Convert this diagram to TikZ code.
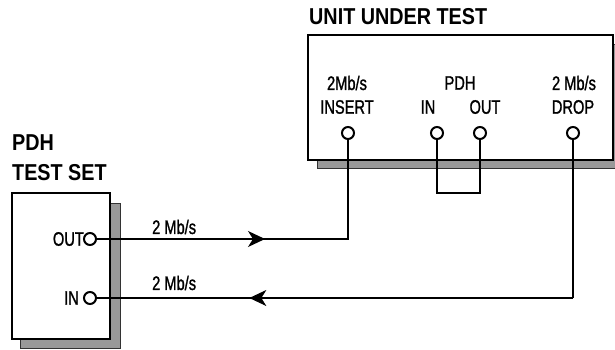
\documentclass[tikz,border=0pt]{standalone}
\usepackage{fontspec}
\setmainfont{Liberation Sans}[FakeStretch=0.75,FakeBold=1.2]
\newfontfamily\titlefont{Liberation Sans Bold}[FakeStretch=0.86]
\usetikzlibrary{arrows.meta,decorations.markings}
\begin{document}
\begin{tikzpicture}[x=1pt,y=-1pt,
  wire/.style={line width=2pt},
  boxline/.style={draw=black,line width=2.4pt,fill=white},
  shadowbox/.style={draw=black!80,line width=0.8pt,fill=black!40},
  port/.style={circle,draw=black,line width=2pt,fill=white,minimum size=12pt,inner sep=0pt},
  lbl/.style={font=\fontsize{19.5}{20}\selectfont,inner sep=0pt},
  ttl/.style={font=\titlefont\fontsize{23}{24}\selectfont,inner sep=0pt,anchor=west},
  arrowmid/.style={postaction={decorate},decoration={markings,
     mark=at position #1 with {\arrow[line width=1pt]{Stealth[length=17pt,width=16pt,inset=5pt]}}}}
]
\useasboundingbox (0,0) rectangle (615,350);
% unit under test
\path[shadowbox] (317,44) rectangle (615,168);
\path[boxline] (308,35) rectangle (613,160);
% test set
\path[shadowbox] (20,203) rectangle (120,348);
\path[boxline] (12,193) rectangle (110,339);
% titles
\node[ttl] (t1) at (309,17) {UNIT UNDER TEST};
\node[ttl] (t2) at (12,143) {PDH};
\node[ttl] (t3) at (12,173) {TEST SET};
% UUT labels
\node[lbl] (l1) at (347,83) {2Mb/s};
\node[lbl] (l2) at (347,107) {INSERT};
\node[lbl] (l3) at (460,83) {PDH};
\node[lbl] (l4) at (428,107) {IN};
\node[lbl] (l5) at (485,107) {OUT};
\node[lbl] (l6) at (574,83) {2 Mb/s};
\node[lbl] (l7) at (573,107) {DROP};
% ports
\node[port] (ins) at (348,133) {};
\node[port] (pin) at (437,133) {};
\node[port] (pout) at (480,133) {};
\node[port] (drop) at (573,133) {};
\node[port] (tout) at (90,239) {};
\node[port] (tin) at (90,298) {};
\node[lbl,anchor=east] (lo) at (84,239) {OUT};
\node[lbl,anchor=east] (li) at (79,298) {IN};
% wire labels
\node[lbl,anchor=west] (w1) at (152,227) {2 Mb/s};
\node[lbl,anchor=west] (w2) at (152,283) {2 Mb/s};
% connectors
\coordinate (c1) at (348,239);
\coordinate (c2) at (573,298);
\coordinate (lb1) at (437,193);
\coordinate (lb2) at (480,193);
\draw[wire,arrowmid=0.48] (tout.east) -- (c1) -- (ins.south);
\draw[wire,arrowmid=0.68] (c2) -- (tin.east);
\draw[wire] (drop.south) -- (c2);
\draw[wire] (pin.south) -- (lb1) -- (lb2) -- (pout.south);
\end{tikzpicture}
\end{document}
